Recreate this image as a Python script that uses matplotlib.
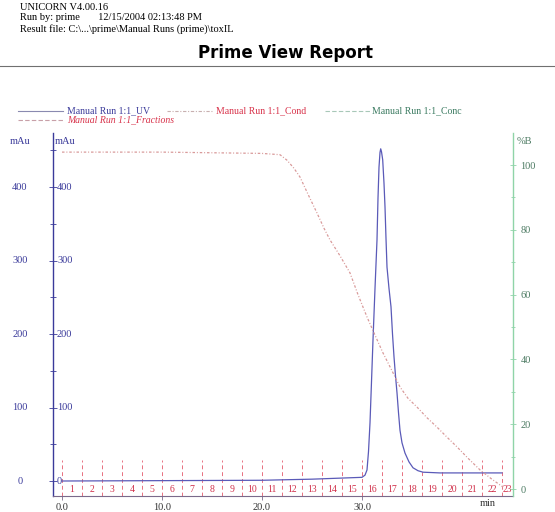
import matplotlib
matplotlib.use("Agg")
import matplotlib.pyplot as plt
import matplotlib.transforms as mtransforms
from matplotlib.lines import Line2D
from matplotlib.ticker import MultipleLocator

plt.rcParams['font.family'] = ['Liberation Serif', 'DejaVu Serif']

# ---------------- data ----------------
uv_time = [0.0, 10.0, 20.0, 25.0, 30.0, 30.3, 30.5, 30.65, 30.8, 30.95, 31.1, 31.3,
           31.5, 31.6, 31.7, 31.8, 31.87, 31.95, 32.07, 32.2, 32.3, 32.4, 32.5, 32.7,
           32.9, 33.05, 33.2, 33.35, 33.5, 33.65, 33.8, 34.0, 34.3, 34.7, 35.1, 35.6,
           36.1, 37.8, 41.5, 44.0]
uv_mau = [0.0, 0.5, 1.0, 2.5, 5.0, 8.0, 15.0, 40.0, 79.0, 135.0, 192.0, 262.0,
          328.0, 385.0, 427.0, 447.0, 452.0, 448.0, 437.0, 405.0, 373.0, 330.0, 291.0,
          262.0, 237.0, 200.0, 169.0, 143.0, 120.0, 93.0, 69.0, 52.0, 38.0, 26.0, 18.0,
          14.0, 12.0, 11.0, 11.0, 11.0]

# conductivity trace, drawn on the %B scale (relative units)
cond_time = [0.0, 10.0, 20.0, 21.8, 22.5, 23.2, 23.8, 24.6, 25.5, 26.2, 26.8, 27.8,
             28.8, 29.6, 30.5, 31.3, 32.1, 33.0, 33.8, 34.6, 35.5, 36.5, 37.5, 38.5,
             39.5, 40.6, 41.8, 43.0, 44.1]
cond_val = [104.0, 104.0, 103.6, 103.2, 101.5, 99.0, 96.3, 91.0, 85.2, 80.5, 76.9,
            72.0, 66.7, 60.0, 53.1, 47.5, 42.0, 36.5, 31.5, 28.0, 25.3, 22.0, 19.1,
            16.0, 13.0, 9.5, 5.9, 3.0, 0.6]

frac_start = [0, 2, 4, 6, 8, 10, 12, 14, 16, 18, 20, 22, 24, 26, 28, 30, 32, 34,
              36, 38, 40, 42, 44]
frac_labels = [str(i) for i in range(1, 24)]

mau_ticks = [0, 100, 200, 300, 400]
pb_ticks = [0, 20, 40, 60, 80, 100]
x_ticks = [0.0, 10.0, 20.0, 30.0]
x_tick_labels = ["0.0", "10.0", "20.0", "30.0"]

# ---------------- styling ----------------
W, H = 555, 512
navy = '#3a3a9a'
uv_col = '#5a5ab8'
cond_col = '#d99a9a'
frac_col = '#e87080'
frac_txt = '#d0304a'
green = '#8fd4a8'
green_txt = '#4c7a62'
red_txt = '#d8324a'

fig = plt.figure(figsize=(W / 100, H / 100), dpi=100)

def fx(px):
    return px / W

def fy(py):
    return 1 - py / H

# header
fig.text(fx(20), fy(8), "UNICORN V4.00.16", fontsize=7.5, va='center', ha='left')
fig.text(fx(20), fy(18), "Run by: prime       12/15/2004 02:13:48 PM", fontsize=7.5,
         va='center', ha='left')
fig.text(fx(20), fy(29), "Result file: C:\\...\\prime\\Manual Runs (prime)\\toxIL",
         fontsize=7.5, va='center', ha='left')
fig.text(fx(285), fy(53), "Prime View Report", fontsize=12, fontweight='heavy',
         family='DejaVu Sans', va='center', ha='center')
fig.add_artist(Line2D([0, 1], [fy(66), fy(66)], color='#707070', lw=0.8))

# legend (drawn manually)
fig.add_artist(Line2D([fx(18), fx(63)], [fy(111), fy(111)], color='#8a8ab0', lw=0.8))
fig.text(fx(67), fy(111), "Manual Run 1:1_UV", fontsize=7, color=navy, va='center')
fig.add_artist(Line2D([fx(167), fx(213)], [fy(111), fy(111)], color='#c8b0b0', lw=0.8,
                      ls=(0, (3, 1.5, 1, 1.5))))
fig.text(fx(216), fy(111), "Manual Run 1:1_Cond", fontsize=7, color=red_txt, va='center')
fig.add_artist(Line2D([fx(325), fx(370)], [fy(111), fy(111)], color='#a8c8b8', lw=0.8,
                      ls=(0, (4, 2))))
fig.text(fx(372), fy(111), "Manual Run 1:1_Conc", fontsize=7, color='#3a7a60', va='center')
fig.add_artist(Line2D([fx(18), fx(63)], [fy(120), fy(120)], color='#c8a0a8', lw=0.8,
                      ls=(0, (4, 2))))
fig.text(fx(67), fy(120), "Manual Run 1:1_Fractions", fontsize=7, color=red_txt,
         style='italic', va='center')

# ---------------- axes ----------------
left_px, right_px, top_px, bot_px = 53, 513, 133, 496
ax = fig.add_axes([fx(left_px), 1 - bot_px / H, (right_px - left_px) / W,
                   (bot_px - top_px) / H])
ax.set_xlim(-0.9, 45.1)
ax.set_ylim(-20.4, 473.5)
for s in ['top', 'right']:
    ax.spines[s].set_visible(False)
ax.spines['left'].set_color(navy)
ax.spines['left'].set_linewidth(1.0)
ax.spines['bottom'].set_color('#7a6a8a')
ax.spines['bottom'].set_linewidth(0.8)

ax.set_yticks(mau_ticks)
ax.yaxis.set_minor_locator(MultipleLocator(50))
ax.tick_params(axis='y', which='both', direction='inout', length=6, color=navy,
               labelleft=False, width=0.6)
ax.tick_params(axis='y', which='minor', length=4)
ax.set_xticks(x_ticks)
ax.set_xticklabels(x_tick_labels, fontsize=7.5, color='#333333')
ax.tick_params(axis='x', direction='out', length=3, pad=2, color='#7a6a8a', width=0.6)

# y tick labels: inner (right of axis) and outer (far left)
tr_in = mtransforms.blended_transform_factory(ax.transAxes, ax.transData)
x_in = 4 / (right_px - left_px)
x_out = (20 - left_px) / (right_px - left_px)
for v in mau_ticks:
    ax.text(x_in, v, str(v), transform=tr_in, fontsize=7.5, color=navy,
            va='center', ha='left', clip_on=False)
    ax.text(x_out, v, str(v), transform=tr_in, fontsize=7.5, color=navy,
            va='center', ha='center', clip_on=False)
ax.text(x_out, 1.0 - 9 / (bot_px - top_px), "mAu", transform=ax.transAxes, fontsize=7.5,
        color=navy, va='center', ha='center')
ax.text(x_in - 2 / (right_px - left_px), 1.0 - 9 / (bot_px - top_px), "mAu",
        transform=ax.transAxes, fontsize=7.5, color=navy, va='center', ha='left')

# min label
ax.text(42.6, -7 / (bot_px - top_px), "min", transform=mtransforms.blended_transform_factory(
    ax.transData, ax.transAxes), fontsize=7.5, color='#333333', va='center', ha='center')

# UV trace
ax.plot(uv_time, uv_mau, color=uv_col, lw=0.9, zorder=3)

# fractions
xmin, xmax = ax.get_xlim()
frac_top = (bot_px - 460) / (bot_px - top_px)
frac_y = (bot_px - 489) / (bot_px - top_px)
tr_fr = mtransforms.blended_transform_factory(ax.transData, ax.transAxes)
for i, (s, lab) in enumerate(zip(frac_start, frac_labels)):
    ax.axvline(s, ymin=0, ymax=frac_top, color=frac_col, lw=0.7, ls=(0, (4, 3)))
    e = frac_start[i + 1] if i + 1 < len(frac_start) else xmax
    e = min(e, xmax)
    ax.text((s + e) / 2, frac_y, lab, transform=tr_fr, fontsize=7, color=frac_txt,
            va='center', ha='center')

# right axis (%B)
ax2 = ax.twinx()
ax2.set_ylim(-2.16, 109.9)
for s in ['top', 'left', 'bottom']:
    ax2.spines[s].set_visible(False)
ax2.spines['right'].set_color(green)
ax2.spines['right'].set_linewidth(1.0)
ax2.set_yticks(pb_ticks)
ax2.yaxis.set_minor_locator(MultipleLocator(10))
ax2.tick_params(axis='y', which='both', direction='inout', length=5, color=green,
                width=0.6, labelsize=7.5, labelcolor=green_txt, pad=3)
ax2.tick_params(axis='y', which='minor', length=3)
ax2.text(1.0 + 4 / (right_px - left_px), 1.0 - 9 / (bot_px - top_px), "%B",
         transform=ax2.transAxes, fontsize=7.5, color=green_txt, va='center', ha='left')

# conductivity trace
ax2.plot(cond_time, cond_val, color=cond_col, lw=0.9, ls=(0, (2, 1.5, 0.8, 1.5)),
         zorder=2)

fig.savefig("out.png", dpi=100)
